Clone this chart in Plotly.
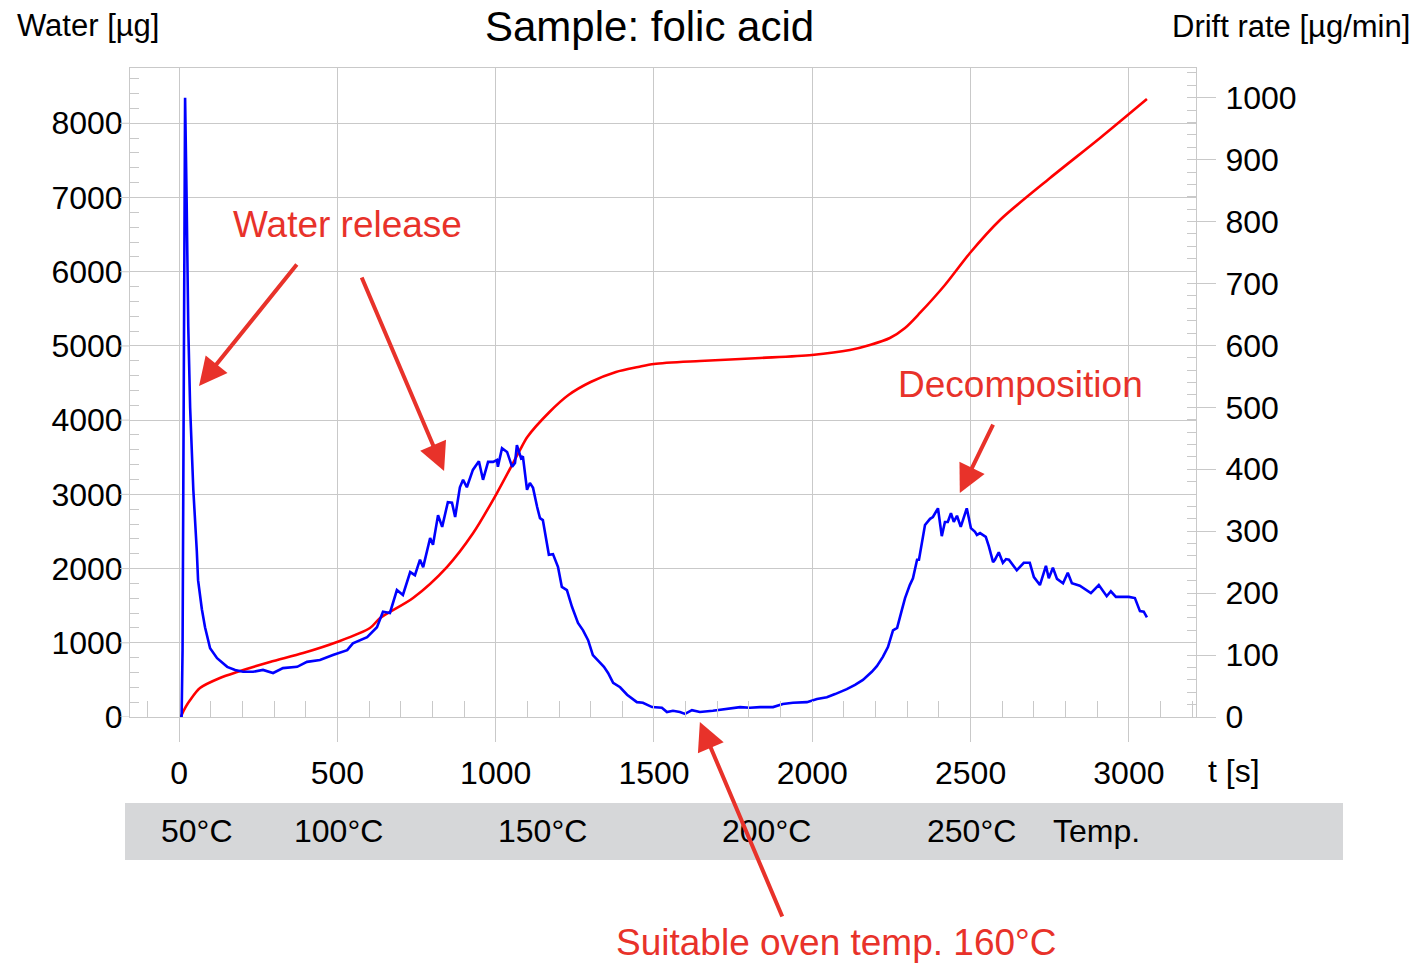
import plotly.graph_objects as go

# ---------------- data ----------------
# Water [µg] (cumulative, left axis)
water_t = [5, 20, 35, 66, 129, 183, 287, 392, 499, 603, 635, 739, 846, 929, 1004, 1077, 1100,
           1170, 1230, 1300, 1380, 1450, 1500, 1645, 1835, 1999, 2119, 2182, 2245, 2293, 2340,
           2419, 2498, 2593, 2751, 2909, 3057]
water_ug = [0, 130, 229, 391, 526, 606, 741, 862, 1011, 1199, 1334, 1604, 2021, 2479, 3018, 3598, 3773,
            4110, 4339, 4514, 4649, 4716, 4757, 4797, 4837, 4878, 4945, 5013, 5107, 5242, 5444,
            5821, 6252, 6697, 7263, 7802, 8327]

# Drift rate [µg/min] (right axis)
drift_t = [0, 8, 11, 19, 24, 29, 35, 45, 56, 60, 72, 82, 98, 120, 152, 177, 202, 234, 265, 297,
           328, 373, 404, 445, 486, 531, 549, 594, 625, 644, 666, 688, 707, 730, 745, 761, 771,
           793, 802, 818, 831, 849, 862, 872, 887, 897, 909, 928, 947, 960, 976, 992, 1004, 1007,
           1020, 1036, 1052, 1061, 1067, 1080, 1086, 1099, 1108, 1118, 1131, 1140, 1149, 1168,
           1181, 1197, 1209, 1225, 1241, 1260, 1276, 1292, 1307, 1329, 1342, 1355, 1371, 1393,
           1415, 1446, 1465, 1494, 1525, 1541, 1560, 1582, 1598, 1620, 1645, 1686, 1731, 1772,
           1803, 1835, 1876, 1907, 1939, 1983, 2015, 2046, 2072, 2109, 2135, 2160, 2188, 2204,
           2223, 2239, 2255, 2268, 2283, 2293, 2308, 2318, 2331, 2337, 2356, 2372, 2381, 2397,
           2409, 2419, 2428, 2438, 2447, 2457, 2469, 2488, 2501, 2514, 2520, 2530, 2548, 2558,
           2571, 2577, 2589, 2602, 2612, 2621, 2646, 2668, 2687, 2700, 2719, 2738, 2747, 2760,
           2773, 2792, 2807, 2820, 2845, 2880, 2905, 2930, 2943, 2959, 3000, 3019, 3035, 3047, 3057]
drift_rate = [0, 0, 108, 1000, 830, 631, 499, 367, 268, 221, 174, 145, 111, 95, 81, 76, 73, 73, 76, 71,
              79, 81, 89, 92, 100, 108, 119, 129, 145, 170, 168, 205, 197, 234, 229, 254, 242,
              289, 278, 326, 307, 347, 346, 323, 371, 383, 371, 399, 413, 383, 412, 412, 415, 404,
              434, 428, 404, 410, 439, 418, 421, 367, 378, 370, 339, 321, 318, 262,
              263, 242, 210, 205, 178, 152, 140, 124, 100, 87, 81, 71, 55, 48,
              36, 24, 23, 16, 15, 8, 10, 8, 5, 11, 8, 10, 13, 16,
              15, 16, 16, 21, 23, 24, 29, 32, 37, 45, 52, 60, 73, 82,
              97, 113, 140, 144, 173, 192, 213, 224, 254, 254, 310, 320, 323, 337,
              292, 315, 315, 329, 315, 325, 307, 337, 305, 299, 294, 297, 291, 275,
              250, 254, 266, 249, 255, 254, 237, 249, 249, 226, 213, 244, 224, 241,
              223, 216, 233, 216, 212, 200, 213, 195, 203, 194, 194, 192, 171, 170, 161]

x_ticks = [0, 500, 1000, 1500, 2000, 2500, 3000]
water_ticks = [0, 1000, 2000, 3000, 4000, 5000, 6000, 7000, 8000]
drift_ticks = [0, 100, 200, 300, 400, 500, 600, 700, 800, 900, 1000]

temp_labels = ["50°C", "100°C", "150°C", "200°C", "250°C", "Temp."]
temp_t = [57, 502, 1149, 1856, 2504, 2899]

FONT = "Liberation Sans, Arial, sans-serif"
GRID = "#c9c9c9"
ANN_RED = "#e8322a"
PLOT_W = 1066.0  # plot area width in px (for paper-unit offsets)

fig = go.Figure()
fig.add_trace(go.Scatter(x=water_t, y=water_ug, mode="lines",
                         line=dict(color="#ff0000", width=2.6, shape="spline", smoothing=0.8),
                         yaxis="y", showlegend=False))
fig.add_trace(go.Scatter(x=drift_t, y=drift_rate, mode="lines",
                         line=dict(color="#0000ff", width=2.6), yaxis="y2", showlegend=False))

fig.update_layout(
    width=1420, height=963,
    margin=dict(l=130, r=224, t=68, b=246),
    paper_bgcolor="white", plot_bgcolor="white",
    font=dict(family=FONT, size=32, color="black"),
    xaxis=dict(range=[-155, 3212], tickvals=x_ticks, ticktext=[str(v) for v in x_ticks],
               showgrid=True, gridcolor=GRID, gridwidth=1, zeroline=False,
               showline=True, linecolor=GRID, linewidth=1, mirror=True,
               ticks="outside", ticklen=24, tickcolor=GRID, tickwidth=1,
               ticklabelstandoff=4,
               minor=dict(ticks="inside", ticklen=16, dtick=100, tick0=0, tickcolor=GRID, showgrid=False),
               tickfont=dict(size=32)),
    yaxis=dict(range=[0, 8745], tickvals=water_ticks, showgrid=True, gridcolor=GRID,
               zeroline=False, showline=True, linecolor=GRID, linewidth=1, mirror=True,
               ticks="outside", ticklen=0, tickcolor=GRID, ticklabelstandoff=0,
               minor=dict(ticks="inside", ticklen=9, dtick=200, tick0=0, tickcolor=GRID, showgrid=False),
               tickfont=dict(size=32)),
    yaxis2=dict(range=[0, 1048], tickvals=drift_ticks, overlaying="y", side="right",
                showgrid=False, zeroline=False, showline=False,
                ticks="outside", ticklen=19, tickcolor=GRID, ticklabelstandoff=3,
                minor=dict(ticks="inside", ticklen=9, dtick=20, tick0=0, tickcolor=GRID, showgrid=False),
                tickfont=dict(size=32)),
)

# extend the left major gridlines ~10 px outside the plot (tick marks)
for v in water_ticks:
    fig.add_shape(type="line", xref="paper", yref="y", x0=-10 / PLOT_W, x1=0, y0=v, y1=v,
                  line=dict(color=GRID, width=1))

# temperature band
fig.add_shape(type="rect", xref="paper", yref="paper", x0=-0.0047, x1=1.1379, y0=-0.2203, y1=-0.1325,
              fillcolor="#d6d7d9", line=dict(width=0), layer="below")
for lab, tt in zip(temp_labels, temp_t):
    fig.add_annotation(x=tt, xref="x", y=-0.1764, yref="paper", text=lab, showarrow=False,
                       font=dict(size=32, color="black"), xanchor="center", yanchor="middle")

# header texts
fig.add_annotation(x=0.4869, y=1.0647, xref="paper", yref="paper", text="Sample: folic acid",
                   showarrow=False, font=dict(size=42, color="black"), xanchor="center", yanchor="middle")
fig.add_annotation(x=-0.1079, y=1.0662, xref="paper", yref="paper", text="Water [µg]",
                   showarrow=False, font=dict(size=31, color="black"), xanchor="left", yanchor="middle")
fig.add_annotation(x=1.2026, y=1.0647, xref="paper", yref="paper", text="Drift rate [µg/min]",
                   showarrow=False, font=dict(size=31, color="black"), xanchor="right", yanchor="middle")
fig.add_annotation(x=1.0094, y=-0.0832, xref="paper", yref="paper", text="t [s]",
                   showarrow=False, font=dict(size=32, color="black"), xanchor="left", yanchor="middle")

# red annotation texts
fig.add_annotation(x=0.2045, y=0.7596, xref="paper", yref="paper", text="Water release",
                   showarrow=False, font=dict(size=37, color=ANN_RED), xanchor="center", yanchor="middle")
fig.add_annotation(x=0.8349, y=0.5116, xref="paper", yref="paper", text="Decomposition",
                   showarrow=False, font=dict(size=37, color=ANN_RED), xanchor="center", yanchor="middle")
fig.add_annotation(x=0.6632, y=-0.3467, xref="paper", yref="paper", text="Suitable oven temp. 160°C",
                   showarrow=False, font=dict(size=37, color=ANN_RED), xanchor="center", yanchor="middle")

# arrows (head at the feature, tail offset in px)
arrow_kw = dict(text="", showarrow=True, arrowhead=2, arrowsize=1.4, arrowwidth=4,
                arrowcolor=ANN_RED, axref="pixel", ayref="pixel")
fig.add_annotation(x=63, y=4460, xref="x", yref="y", ax=99, ay=-123, **arrow_kw)
fig.add_annotation(x=837, y=3315, xref="x", yref="y", ax=-83, ay=-195, **arrow_kw)
fig.add_annotation(x=2466, y=3018, xref="x", yref="y", ax=34, ay=-70, **arrow_kw)
fig.add_annotation(x=1645, y=-0.0077, xref="x", yref="paper", ax=83, ay=196, **arrow_kw)

fig.write_html("out.html", config={"displayModeBar": False},
               post_script="document.body.style.margin='0';")
